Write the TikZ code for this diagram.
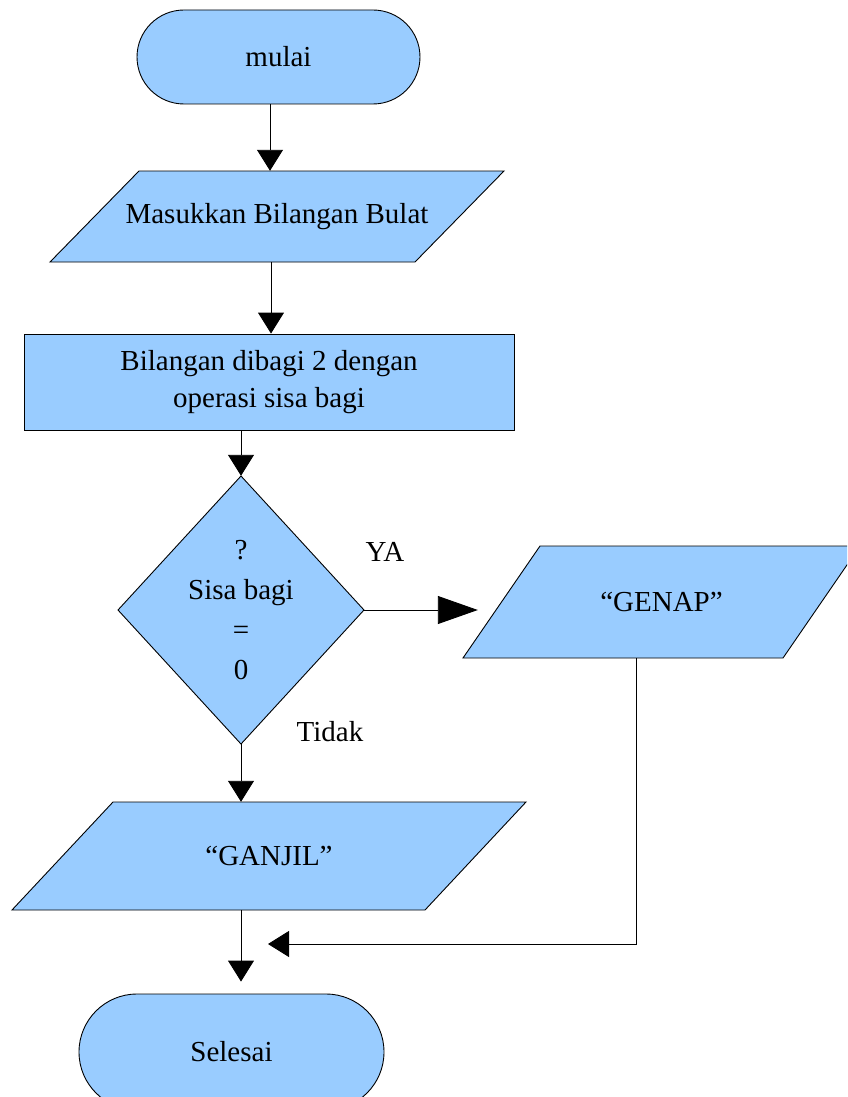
\documentclass[tikz,border=0pt]{standalone}
\usepackage{fontspec}
\setmainfont{Liberation Serif}
\usetikzlibrary{arrows.meta}
\definecolor{flowblue}{RGB}{153,204,255}
\begin{document}
\begin{tikzpicture}[x=1pt,y=-1pt,
  shapestyle/.style={draw=black, fill=flowblue, line width=0.9pt},
  txt/.style={font=\fontsize{29}{34}\selectfont, inner sep=0pt, align=center},
  arr/.style={line width=0.9pt, -{Triangle[length=21pt,width=26pt]}},
  bigarr/.style={line width=0.9pt, -{Triangle[length=40pt,width=28pt]}},
]
\useasboundingbox (0,0) rectangle (847,1097);
\fill[white] (0,0) rectangle (847,1097);
\clip (0,0) rectangle (847,1097);

% start terminator
\node[txt, shapestyle, rounded corners=47pt, minimum width=283pt, minimum height=94pt] (start) at (278.5,57) {mulai};

% input parallelogram
\filldraw[shapestyle] (139,171) -- (504,171) -- (415,262) -- (50,262) -- cycle;
\node[txt, minimum height=91pt] (in) at (277,216.5) {Masukkan Bilangan Bulat};

% process
\node[txt, shapestyle, minimum width=490pt, minimum height=96pt, font=\fontsize{29}{37.5}\selectfont] (proc) at (269,382) {Bilangan dibagi 2 dengan\\operasi sisa bagi};

% decision
\filldraw[shapestyle] (241,476) -- (364,610) -- (241,744) -- (118,610) -- cycle;
\node[txt, minimum width=246pt, minimum height=268pt, font=\fontsize{29}{40}\selectfont] (dec) at (241,610) {?\\Sisa bagi\\=\\0};

% GENAP
\filldraw[shapestyle] (540,546) -- (860,546) -- (783,658) -- (463,658) -- cycle;
\node[txt, minimum width=397pt, minimum height=112pt] (genap) at (661.5,602) {“GENAP”};

% GANJIL
\filldraw[shapestyle] (113,802) -- (526,802) -- (425,910) -- (12,910) -- cycle;
\node[txt, minimum height=108pt] (ganjil) at (269,856) {“GANJIL”};

% end terminator
\node[txt, shapestyle, rounded corners=58pt, minimum width=305pt, minimum height=116pt] (end) at (231.5,1052) {Selesai};

% labels
\node[txt] (ya) at (385,552) {YA};
\node[txt] (tidak) at (330,732) {Tidak};

% connectors
\coordinate (a1) at (270,0);
\coordinate (a2) at (271,0);
\coordinate (rx) at (636,0);
\coordinate (join) at (268,944);
\draw[arr] (start.south -| a1) -- (in.north -| a1);
\draw[arr] (in.south -| a2) -- (proc.north -| a2);
\draw[arr] (proc.south -| dec.north) -- (dec.north);
\draw[arr] (dec.south) -- (ganjil.north -| dec.south);
\draw[arr, shorten >=12pt] (ganjil.south -| dec.south) -- (end.north -| dec.south);
\draw[bigarr] (dec.east) -- ([xshift=15pt]dec.east -| genap.west);
\draw[arr] (genap.south -| rx) |- (join);
\end{tikzpicture}
\end{document}
